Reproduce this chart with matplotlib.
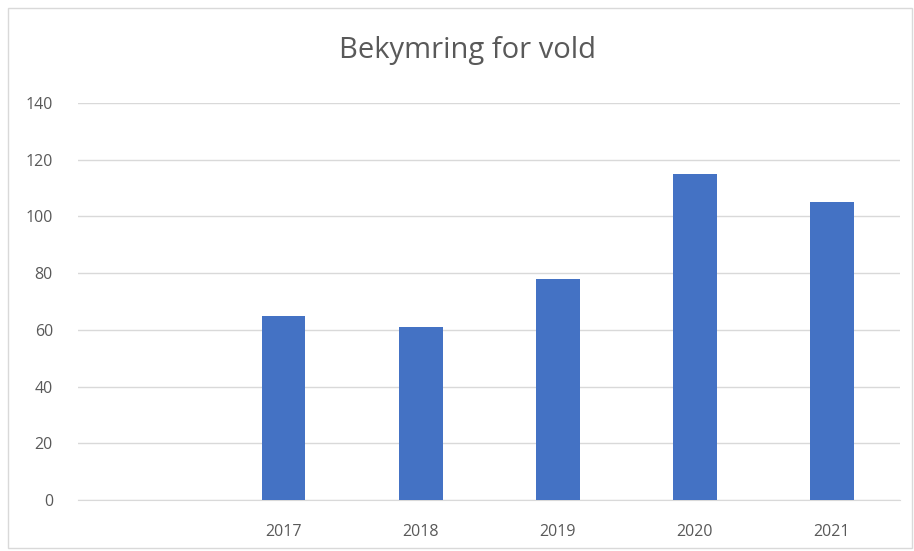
import matplotlib
matplotlib.use("Agg")
import matplotlib.pyplot as plt
from matplotlib.patches import Rectangle

# data
categories = ["", "2017", "2018", "2019", "2020", "2021"]
values = [0, 65, 61, 78, 115, 105]
yticks = [0, 20, 40, 60, 80, 100, 120, 140]

plt.rcParams["font.family"] = ["Open Sans", "DejaVu Sans"]

fig = plt.figure(figsize=(9.14, 5.51), dpi=100)
ax = fig.add_axes([0.0853, 0.0926, 0.8997, 0.7204])

x = range(len(categories))
ax.bar(x, values, width=0.32, color="#4472C4", zorder=3)

ax.set_xlim(-0.5, len(categories) - 0.5)
ax.set_ylim(0, 140)
ax.set_yticks(yticks)
ax.set_xticks(list(x))
ax.set_xticklabels(categories)
ax.grid(axis="y", color="#d9d9d9", linewidth=1, zorder=0)
for s in ["left", "right", "top"]:
    ax.spines[s].set_visible(False)
ax.spines["bottom"].set_color("#d9d9d9")
ax.tick_params(length=0, colors="#595959", labelsize=11.5)
ax.tick_params(axis="y", pad=18)
ax.tick_params(axis="x", pad=17)

fig.text(0.511, 0.908, "Bekymring for vold", ha="center", va="center",
         fontsize=21, color="#595959")

# outer chart border
fig.patches.append(Rectangle((0.009, 0.005), 0.989, 0.98, transform=fig.transFigure,
                             fill=False, edgecolor="#d9d9d9", linewidth=1))

fig.savefig("out.png", dpi=100)
